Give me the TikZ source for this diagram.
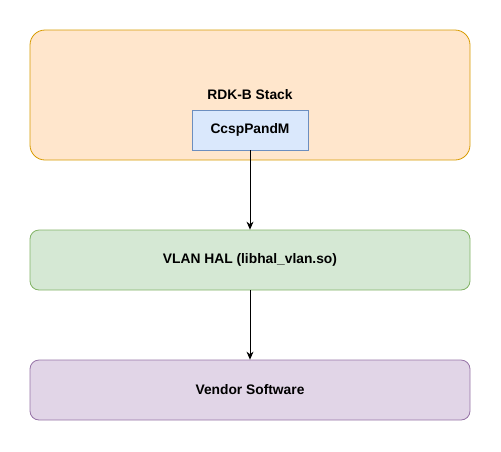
\documentclass[tikz,border=0pt]{standalone}
\usepackage{fontspec}
\setmainfont{Liberation Sans}
\usetikzlibrary{arrows.meta,positioning}
\definecolor{rdkfill}{HTML}{FFE6CC}
\definecolor{rdkline}{HTML}{D79B00}
\definecolor{ccspfill}{HTML}{DAE8FC}
\definecolor{ccspline}{HTML}{6C8EBF}
\definecolor{halfill}{HTML}{D5E8D4}
\definecolor{halline}{HTML}{82B366}
\definecolor{vendfill}{HTML}{E1D5E7}
\definecolor{vendline}{HTML}{9673A6}
\tikzset{layer/.style={draw, rounded corners=9pt, minimum width=440pt, minimum height=60pt, font=\fontsize{13.8}{16}\selectfont\bfseries, line width=0.8pt},
         arr/.style={draw, -{Stealth[length=8pt,width=7pt]}, line width=0.8pt}}

\begin{document}
\begin{tikzpicture}[x=1pt,y=-1pt]
        \useasboundingbox (0,0) rectangle (501,451);
        \node[layer, rounded corners=15pt, fill=rdkfill, draw=rdkline, minimum height=130pt] (rdk) at (250,95) {RDK-B Stack};
        \node[draw=ccspline, fill=ccspfill, line width=0.8pt, minimum width=116pt, minimum height=40pt, font=\fontsize{13.8}{16}\selectfont\bfseries] (ccsp) at (250,130) {CcspPandM};
        \node[layer, fill=halfill, draw=halline] (hal) at (250,260) {VLAN HAL (libhal\_vlan.so)};
        \node[layer, fill=vendfill, draw=vendline] (vend) at (250,390) {Vendor Software};
        \draw[arr] (ccsp) -- (hal);
        \draw[arr] (hal) -- (vend);
    \end{tikzpicture}
\end{document}
